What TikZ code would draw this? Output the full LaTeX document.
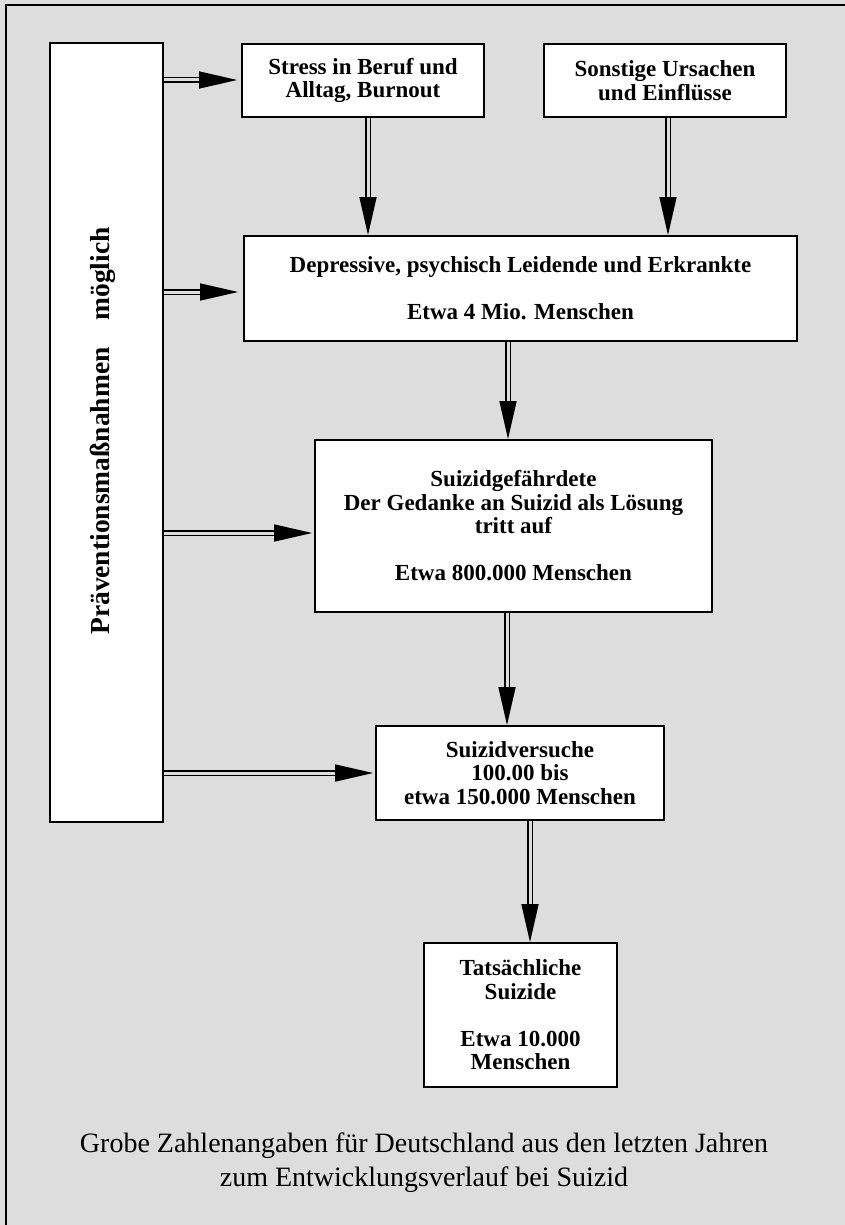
\documentclass[tikz,border=0pt]{standalone}
\usepackage{fontspec}
\setmainfont{Liberation Serif}
\usetikzlibrary{arrows.meta}
\definecolor{bggray}{RGB}{221,221,221}
\begin{document}
\begin{tikzpicture}[x=1pt,y=-1pt,
  box/.style={draw=black,line width=1.8pt,fill=white,align=center,inner sep=0pt,
     font=\bfseries\fontsize{23}{23.5}\selectfont},
  arr/.style={draw=black,line width=1.5pt,double=bggray,double distance=3pt,
     -{Triangle[length=38pt,width=17pt]}},
  captxt/.style={align=center,inner sep=0pt,font=\fontsize{28}{34}\selectfont},
  vtxt/.style={rotate=90,inner sep=0pt,font=\bfseries\fontsize{27.5}{30}\selectfont}
]
\fill[bggray] (0,0) rectangle (845,1225);
\useasboundingbox (0,0) rectangle (845,1225);
\draw[line width=1.8pt] (6,1226) -- (6,5) -- (846,5);

\node[box,minimum width=113pt,minimum height=779pt] (L) at (106.5,432.5) {};
\node[vtxt] (ptext) at (103,431) {Präventionsmaßnahmen\hspace{27pt}möglich};

\node[box,minimum width=242pt,minimum height=73pt] (stress) at (363,80.5) {Stress in Beruf und\\Alltag, Burnout};
\node[box,minimum width=242pt,minimum height=73pt] (sonst) at (665,80.5) {Sonstige Ursachen\\und Einflüsse};
\node[box,minimum width=553pt,minimum height=105pt] (dep) at (520.5,288.5) {Depressive, psychisch Leidende und Erkrankte\\[23.5pt]Etwa 4 Mio. Menschen};
\node[box,minimum width=397pt,minimum height=172pt] (suiz) at (513.5,526) {Suizidgefährdete\\Der Gedanke an Suizid als Lösung\\tritt auf\\[23.5pt]Etwa 800.000 Menschen};
\node[box,minimum width=288pt,minimum height=94pt] (vers) at (520,773) {Suizidversuche\\100.00 bis\\etwa 150.000 Menschen};
\node[box,minimum width=193pt,minimum height=144pt] (tats) at (520.5,1015) {Tatsächliche\\Suizide\\[23.5pt]Etwa 10.000\\Menschen};

\node[captxt] (cap) at (424,1163) {Grobe Zahlenangaben für Deutschland aus den letzten Jahren\\zum Entwicklungsverlauf bei Suizid};

\draw[arr,shorten >=4pt] (L.east |- 0,80) -- (stress.west |- 0,80);
\draw[arr,shorten >=5pt] (L.east |- 0,292) -- (dep.west |- 0,292);
\draw[arr,shorten >=2pt] (L.east |- 0,533) -- (suiz.west |- 0,533);
\draw[arr,shorten >=2pt] (L.east |- 0,773) -- (vers.west |- 0,773);
\draw[arr] (stress.south -| 368,0) -- (dep.north -| 368,0);
\draw[arr] (sonst.south -| 668,0) -- (dep.north -| 668,0);
\draw[arr] (dep.south -| 508,0) -- (suiz.north -| 508,0);
\draw[arr] (suiz.south -| 507,0) -- (vers.north -| 507,0);
\draw[arr] (vers.south -| 530,0) -- (tats.north -| 530,0);
\end{tikzpicture}
\end{document}
